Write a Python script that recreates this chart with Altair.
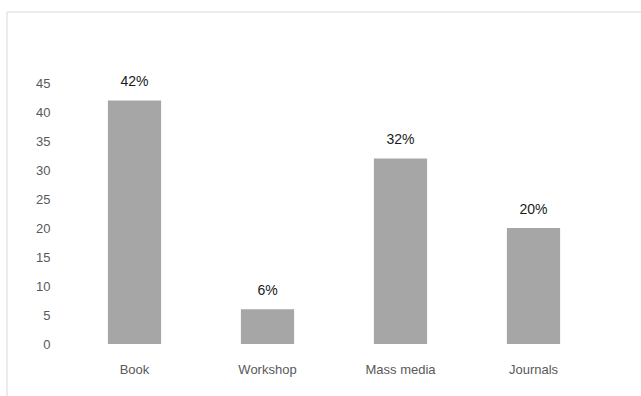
import altair as alt
import pandas as pd

categories = ["Book", "Workshop", "Mass media", "Journals"]
values = [42, 6, 32, 20]
labels = ["42%", "6%", "32%", "20%"]
y_ticks = [0, 5, 10, 15, 20, 25, 30, 35, 40, 45]

df = pd.DataFrame({"cat": categories, "val": values, "lab": labels})

FONT = "Liberation Sans"

base = alt.Chart(df)

frame = base.mark_rect(fill=None, stroke="#d9d9d9", strokeWidth=1).encode(
    x=alt.value(7 - 68), y=alt.value(12 - 83),
    x2=alt.value(800), y2=alt.value(600)
).transform_filter(alt.datum.cat == "Book")

xenc = alt.X("cat:N", sort=categories, title=None,
             scale=alt.Scale(paddingInner=0.6, paddingOuter=0.3),
             axis=alt.Axis(labelAngle=0, domain=False, ticks=False, labelPadding=19,
                           labelFont=FONT, labelFontSize=13, labelColor="#595959"))
yenc = alt.Y("val:Q", title=None,
             scale=alt.Scale(domain=[0, 45], nice=False),
             axis=alt.Axis(values=y_ticks, domain=False, ticks=False, grid=False,
                           labelOverlap=False, labelPadding=18, labelFont=FONT,
                           labelFontSize=13, labelColor="#595959"))

bars = base.mark_bar(color="#a6a6a6").encode(x=xenc, y=yenc)

text = base.mark_text(dy=-11, baseline="bottom", font=FONT, fontSize=14, color="#1a1a1a").encode(
    x=xenc, y=yenc, text="lab:N",
)

chart = alt.layer(frame, bars, text).properties(
    width=532, height=261,
    padding={"left": 68, "top": 83, "right": 41, "bottom": 52},
    autosize=alt.AutoSizeParams(type="none"),
    background="white",
).configure_view(stroke=None)

chart.save("out.html", embed_options={"renderer": "svg", "actions": False})
